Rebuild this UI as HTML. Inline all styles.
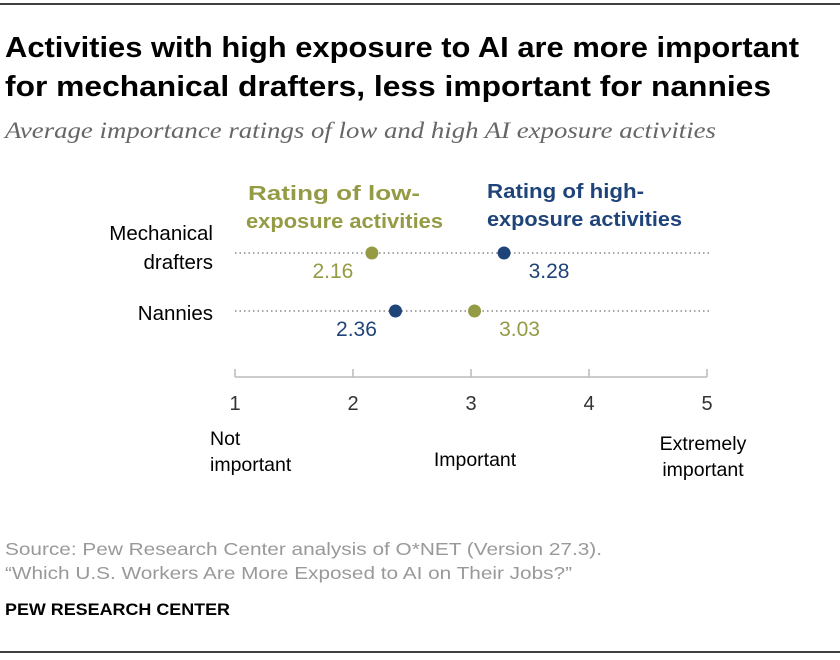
<!DOCTYPE html>
<html><head><meta charset="utf-8"><style>
body{margin:0;background:#fff;}
svg{display:block;font-family:"Liberation Sans",sans-serif;}
</style></head><body>
<svg width="840" height="660">
<line x1="0" y1="4" x2="840" y2="4" stroke="#000" stroke-width="1.5"/>
<text x="5" y="57" font-size="29" font-weight="bold" fill="#000" textLength="794" lengthAdjust="spacingAndGlyphs">Activities with high exposure to AI are more important</text>
<text x="5" y="96" font-size="29" font-weight="bold" fill="#000" textLength="766" lengthAdjust="spacingAndGlyphs">for mechanical drafters, less important for nannies</text>
<text x="5" y="138" font-size="23" font-style="italic" font-family="Liberation Serif,serif" fill="#666" textLength="711" lengthAdjust="spacingAndGlyphs">Average importance ratings of low and high AI exposure activities</text>
<text x="248" y="200" font-size="20" font-weight="bold" fill="#959b44" textLength="172" lengthAdjust="spacingAndGlyphs">Rating of low-</text>
<text x="246" y="228" font-size="20" font-weight="bold" fill="#959b44" textLength="197" lengthAdjust="spacingAndGlyphs">exposure activities</text>
<text x="487" y="198" font-size="20" font-weight="bold" fill="#1f4479" textLength="157" lengthAdjust="spacingAndGlyphs">Rating of high-</text>
<text x="487" y="226" font-size="20" font-weight="bold" fill="#1f4479" textLength="195" lengthAdjust="spacingAndGlyphs">exposure activities</text>
<g id="plot"></g>
<text x="5" y="555" font-size="17.5" fill="#999" textLength="597" lengthAdjust="spacingAndGlyphs">Source: Pew Research Center analysis of O*NET (Version 27.3).</text>
<text x="5" y="579" font-size="17.5" fill="#999" textLength="567" lengthAdjust="spacingAndGlyphs">“Which U.S. Workers Are More Exposed to AI on Their Jobs?”</text>
<text x="5" y="615" font-size="17" font-weight="bold" fill="#000" textLength="225" lengthAdjust="spacingAndGlyphs">PEW RESEARCH CENTER</text>
<line x1="0" y1="652" x2="840" y2="652" stroke="#000" stroke-width="1.5"/>
</svg>
<script>
const categories=["Mechanical drafters","Nannies"];
const lowValues=[2.16,3.03];
const highValues=[3.28,2.36];
const ticks=[1,2,3,4,5];
const NS="http://www.w3.org/2000/svg";
const g=document.getElementById('plot');
const x=v=>235+(v-1)*118;
const rowY=[253,311];
function mk(t,a,txt){const e=document.createElementNS(NS,t);for(const k in a)e.setAttribute(k,a[k]);if(txt!=null)e.textContent=txt;g.appendChild(e);return e;}
const catLines=[["Mechanical","drafters"],["Nannies"]];
categories.forEach((c,i)=>{
  const y=rowY[i];
  const ln=mk('line',{x1:235,y1:y,x2:712,y2:y,stroke:'#888','stroke-width':1.5,'stroke-dasharray':'1.5 3'});
  
  
  const parts=catLines[i];
  parts.forEach((p,j)=>{
    const t=mk('text',{x:213,y:parts.length>1?y-13+j*29:y+9,'font-size':20.5,'text-anchor':'end',fill:'#000'},p);
    
    
  });
  const lo=lowValues[i],hi=highValues[i];
  [[lo,'#959b44'],[hi,'#1f4479']].forEach(([v,col],k)=>{
    const d=mk('circle',{cx:x(v),cy:y,r:6.5,fill:col});
    
    
    const isMax=v===Math.max(lo,hi);
    const t=mk('text',{x:isMax?x(v)+45:x(v)-39,y:y+25,'font-size':21,'text-anchor':'middle',fill:col},v.toFixed(2));
    
    
  });
});
const ax=mk('line',{x1:x(1),y1:377,x2:x(5),y2:377,stroke:'#bbb','stroke-width':1.5});


ticks.forEach(v=>{
  const tk=mk('line',{x1:x(v),y1:369,x2:x(v),y2:377,stroke:'#bbb','stroke-width':1.5});
  
  
  const t=mk('text',{x:x(v),y:410,'font-size':20,'text-anchor':'middle',fill:'#333'},String(v));
  
  
});
const anchors=[[["Not","important"],445,'start',210],[["Important"],466,'middle',475],[["Extremely","important"],450,'middle',703]];
anchors.forEach(([lines,y0,anc,xx])=>{
  lines.forEach((l,j)=>{
    const t=mk('text',{x:xx,y:y0+j*26,'font-size':19.5,'text-anchor':anc,fill:'#000'},l);
    
    
  });
});
</script>
</body></html>
